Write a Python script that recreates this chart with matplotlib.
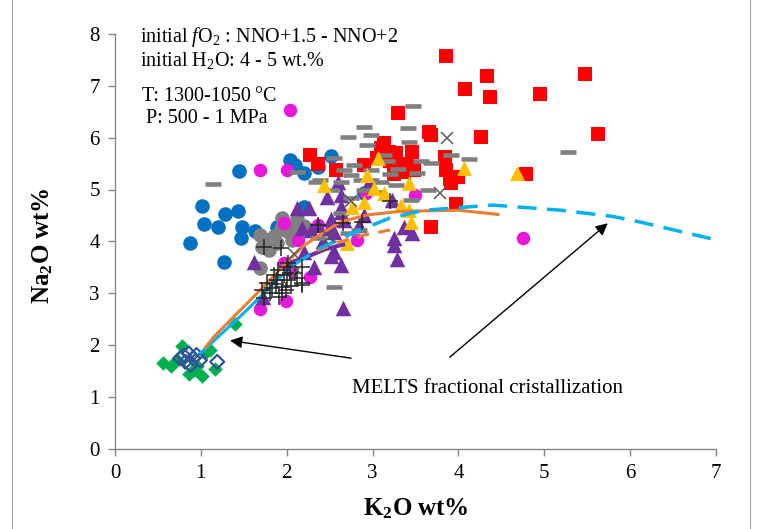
import matplotlib
matplotlib.use("Agg")
import matplotlib.pyplot as plt
from matplotlib.lines import Line2D

plt.rcParams['font.family'] = ['Liberation Serif', 'DejaVu Serif']
plt.rcParams['mathtext.fontset'] = 'custom'
plt.rcParams['mathtext.rm'] = 'Liberation Serif'
plt.rcParams['mathtext.it'] = 'Liberation Serif:italic'
plt.rcParams['mathtext.bf'] = 'Liberation Serif:bold'

# ---------------- data (K2O, Na2O) ----------------
blue_k = [1.45, 1.01, 1.28, 1.43, 1.04, 1.20, 1.48, 1.47, 0.87, 1.27, 1.63, 1.89, 2.04, 2.20, 2.36, 2.51, 2.10, 2.20, 2.90]
blue_na = [5.36, 4.69, 4.52, 4.58, 4.33, 4.28, 4.28, 4.07, 3.96, 3.60, 4.21, 4.28, 5.57, 5.31, 5.44, 5.65, 5.47, 4.66, 4.93]

mag_k = [2.04, 1.69, 2.00, 1.97, 2.13, 2.36, 1.97, 2.27, 1.99, 1.69, 2.82, 2.92, 3.50, 4.75, 2.05]
mag_na = [6.53, 5.38, 5.38, 4.35, 4.03, 4.32, 3.58, 3.32, 2.85, 2.70, 4.02, 4.93, 4.90, 4.06, 3.45]

grayc_k = [2.12, 2.10, 1.93, 2.06, 1.69, 1.77, 1.71, 1.89, 1.79, 1.69, 2.00, 1.85, 2.20, 1.95]
grayc_na = [4.44, 4.25, 4.25, 4.03, 4.12, 4.03, 3.90, 3.96, 3.83, 3.48, 4.20, 4.10, 4.30, 4.45]

purp_k = [2.12, 2.26, 1.62, 2.28, 2.18, 2.47, 2.63, 2.63, 2.51, 2.36, 2.49, 2.84, 2.67, 3.25, 3.37, 3.46,
          2.96, 3.23, 2.63, 2.55, 2.55, 2.63, 2.51, 2.32, 3.25, 3.29, 2.65, 2.60, 2.20, 1.72, 2.42, 2.90]
purp_na = [4.64, 4.64, 3.60, 4.22, 4.25, 4.86, 4.89, 4.66, 4.44, 4.32, 4.25, 4.32, 4.41, 4.06, 4.28, 4.16,
           5.15, 4.80, 4.57, 4.19, 3.80, 3.55, 3.71, 3.51, 3.93, 3.67, 2.71, 5.15, 3.80, 2.93, 4.00, 4.50]

red_k = [3.85, 4.33, 4.08, 4.37, 4.95, 5.48, 5.63, 4.26, 3.30, 3.66, 3.68, 3.46, 3.84, 3.86, 3.99, 3.91,
         3.97, 3.68, 4.79, 3.13, 3.27, 3.48, 3.33, 2.27, 2.36, 2.57, 2.90, 3.10, 3.19, 3.37, 3.20, 3.05,
         3.40, 3.25, 3.90]
red_na = [7.57, 7.19, 6.94, 6.79, 6.84, 7.23, 6.07, 6.02, 6.48, 6.11, 6.05, 5.73, 5.63, 5.38, 5.25, 5.12,
          4.73, 4.28, 5.29, 5.89, 5.70, 5.38, 5.44, 5.66, 5.50, 5.38, 5.47, 5.80, 5.73, 5.34, 5.55, 5.60,
          5.50, 5.30, 5.20]

dash_k = [1.14, 2.12, 2.34, 2.71, 2.90, 2.98, 2.94, 2.55, 2.67, 2.78, 2.39, 2.63, 2.75, 2.86, 2.98, 3.10,
          2.51, 2.98, 3.13, 3.17, 2.75, 3.47, 3.41, 3.43, 3.91, 4.12, 3.56, 3.68, 3.52, 3.27, 3.64, 3.45,
          5.28, 2.55, 2.84, 2.36, 2.71, 2.63, 3.20, 3.30, 2.90, 3.05]
dash_na = [5.10, 5.33, 5.14, 6.02, 6.20, 6.05, 5.86, 5.60, 5.38, 5.47, 5.18, 5.15, 5.28, 5.18, 5.18, 5.15,
           5.00, 5.38, 5.66, 5.54, 4.83, 6.61, 6.18, 5.92, 5.66, 5.59, 5.54, 5.52, 5.31, 5.09, 4.99, 4.80,
           5.73, 3.13, 4.22, 4.06, 4.16, 4.54, 5.30, 5.40, 5.00, 4.95]

yel_k = [4.06, 4.68, 3.42, 3.13, 3.33, 3.43, 3.45, 3.06, 3.02, 2.43, 2.94, 2.70, 2.76, 2.90]
yel_na = [5.41, 5.31, 5.12, 4.93, 4.70, 4.60, 4.38, 5.60, 5.02, 5.09, 5.28, 3.97, 4.67, 4.75]

green_k = [0.56, 0.65, 0.78, 0.86, 0.92, 1.01, 1.11, 1.17, 1.40, 0.95, 1.05, 0.72]
green_na = [1.66, 1.60, 1.98, 1.45, 1.52, 1.40, 1.90, 1.55, 2.41, 1.60, 1.85, 1.72]

navy_k = [0.76, 0.86, 0.91, 0.82, 0.95, 0.99, 1.19, 0.88, 0.80]
navy_na = [1.75, 1.84, 1.75, 1.68, 1.81, 1.71, 1.68, 1.62, 1.80]

plus_k = [1.73, 1.93, 2.36, 2.65, 2.88, 3.20, 2.18, 2.18, 1.77, 1.83, 1.89, 1.97, 2.00, 2.04, 1.95, 1.99,
          2.00, 2.12, 2.18, 1.73, 1.91, 1.71, 1.85, 1.90, 2.05, 1.95, 2.10, 1.80, 2.02, 1.88]
plus_na = [3.90, 3.87, 4.32, 4.35, 4.38, 4.78, 3.51, 3.16, 3.19, 3.10, 3.26, 3.35, 3.26, 3.39, 3.13, 3.06,
           3.51, 3.29, 3.20, 2.90, 2.93, 3.06, 3.35, 3.45, 3.15, 3.00, 3.40, 3.00, 3.58, 3.18]

x_k = [3.87, 3.78, 2.75, 2.09, 2.49, 2.12]
x_na = [5.99, 4.93, 4.77, 3.76, 4.09, 3.45]

# MELTS curves
orange_k = [1.05, 1.15, 1.69, 2.00, 2.20, 2.40, 2.63, 2.94, 3.33, 4.00, 4.46]
orange_na = [1.95, 2.16, 3.06, 3.60, 3.92, 4.14, 4.38, 4.51, 4.58, 4.60, 4.52]
orange2_k = [2.35, 2.60, 2.90, 3.20, 3.30]
orange2_na = [3.82, 3.98, 4.12, 4.22, 4.28]
cyan_lo_k = [1.00, 1.50, 1.90, 2.08]
cyan_lo_na = [1.85, 2.62, 3.27, 3.55]
cyan_k = [2.08, 2.40, 2.80, 3.20, 3.60, 4.40, 5.20, 5.80, 6.10, 7.00]
cyan_na = [3.55, 3.88, 4.18, 4.45, 4.60, 4.70, 4.60, 4.48, 4.38, 4.03]
purpline_k = [1.97, 2.20, 2.45, 2.68]
purpline_na = [3.55, 3.68, 3.85, 3.95]

# ---------------- figure ----------------
fig = plt.figure(figsize=(7.59, 5.29), dpi=100)
ax = fig.add_axes([115 / 759, 1 - 449 / 529, 601 / 759, 415.2 / 529])

# frame lines of the original chart area
fig.add_artist(Line2D([12 / 759, 12 / 759], [0, 1], color='#a6a6a6', lw=0.8))
fig.add_artist(Line2D([750 / 759, 750 / 759], [0, 1], color='#a6a6a6', lw=0.8))

ax.scatter(blue_k, blue_na, s=110, marker='o', color='#0070C0', linewidths=0, zorder=2)
ax.scatter(grayc_k, grayc_na, s=110, marker='o', color='#808080', linewidths=0, zorder=2)
ax.scatter(mag_k, mag_na, s=95, marker='o', color='#E619D8', linewidths=0, zorder=2.1)
ax.scatter(purp_k, purp_na, s=125, marker='^', color='#7030A0', linewidths=0, zorder=2.2)
ax.scatter(red_k, red_na, s=105, marker='s', color='#FF0000', linewidths=0, zorder=2.3)
ax.plot(dash_k, dash_na, ls='none', marker='_', ms=11, mew=3.3, color='#7f7f7f', zorder=2.4)
ax.scatter(yel_k, yel_na, s=115, marker='^', color='#FFC000', linewidths=0, zorder=2.5)
ax.scatter(green_k, green_na, s=55, marker='D', color='#00B050', linewidths=0, zorder=2.6)
ax.scatter(navy_k, navy_na, s=50, marker='D', facecolors='none', edgecolors='#2F5597', linewidths=1.6, zorder=2.7)

ax.plot(purpline_k, purpline_na, color='#7030A0', lw=3, zorder=3, solid_capstyle='butt')
ax.plot(orange_k, orange_na, color='#ED7D31', lw=2.2, zorder=3.1)
ax.plot(orange2_k, orange2_na, color='#ED7D31', lw=2.2, ls=(0, (4, 3)), zorder=3.1)
ax.plot(cyan_lo_k, cyan_lo_na, color='#00B0F0', lw=2.2, zorder=3.05)
ax.plot(cyan_k, cyan_na, color='#00B0F0', lw=2.5, ls=(0, (5.5, 3)), zorder=3.2)

ax.plot(plus_k, plus_na, ls='none', marker='+', ms=12, mew=1.1, color='#262626', zorder=4)
ax.plot(x_k, x_na, ls='none', marker='x', ms=9, mew=1.1, color='#595959', zorder=4)

ax.set_xlim(0, 7)
ax.set_ylim(0, 8)
ax.set_xticks(range(0, 8))
ax.set_yticks(range(0, 9))
for s in ['top', 'right']:
    ax.spines[s].set_visible(False)
for s in ['left', 'bottom']:
    ax.spines[s].set_color('#868686')
    ax.spines[s].set_linewidth(1)
ax.tick_params(axis='both', direction='out', length=5, width=1, color='#868686',
               labelsize=15, labelcolor='black', pad=6)

ax.set_xlabel(r'$\mathbf{K_2O\ wt\%}$', fontsize=18)
ax.set_ylabel(r'$\mathbf{Na_2O\ wt\%}$', fontsize=18)
ax.xaxis.set_label_coords(0.5, -0.115)
ax.yaxis.set_label_coords(-0.10, 0.49)

# annotation text block
ax.text(0.29, 7.85, r'initial $f$O$_2$ : NNO+1.5 - NNO+2', fontsize=14.5, va='baseline')
ax.text(0.29, 7.385, r'initial H$_2$O: 4 - 5 wt.%', fontsize=14.5, va='baseline')
ax.text(0.31, 6.705, 'T: 1300-1050\u2009°C', fontsize=14.5, va='baseline')
ax.text(0.36, 6.275, 'P: 500 - 1 MPa', fontsize=14.5, va='baseline')

ax.text(4.34, 1.16, 'MELTS fractional cristallization', fontsize=15, ha='center', va='center')
arrow = dict(arrowstyle='-|>', color='black', lw=1, mutation_scale=18, shrinkA=0, shrinkB=0)
ax.annotate('', xy=(1.34, 2.09), xytext=(2.75, 1.75), arrowprops=arrow)
ax.annotate('', xy=(5.74, 4.35), xytext=(3.90, 1.77), arrowprops=arrow)

fig.savefig('out.png', dpi=100)
